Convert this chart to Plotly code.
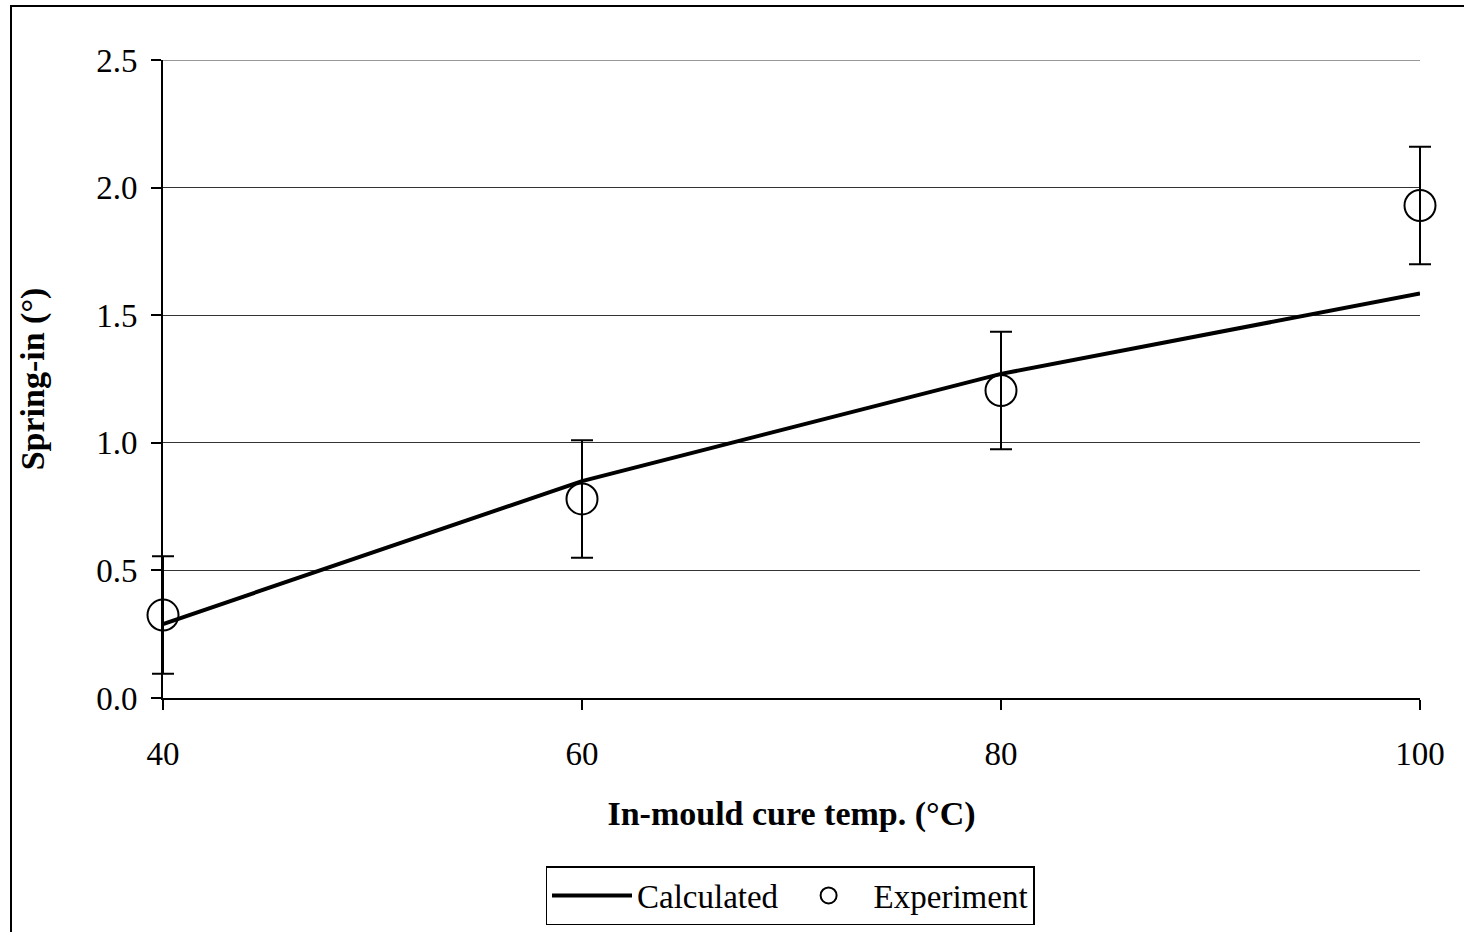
import plotly.graph_objects as go

temps = [40, 60, 80, 100]
calculated = [0.29, 0.85, 1.27, 1.585]
experiment = [0.325, 0.78, 1.205, 1.93]
exp_error = [0.23, 0.23, 0.23, 0.23]
y_ticks = [0.0, 0.5, 1.0, 1.5, 2.0, 2.5]
y_ticklabels = ["0.0", "0.5", "1.0", "1.5", "2.0", "2.5"]
x_ticks = [40, 60, 80, 100]
x_range = [40, 100]
y_range = [0, 2.5]

FONT = "Liberation Serif, Times New Roman, serif"

W, H = 1464, 932
PL, PR, PT, PB = 163, 1420, 60, 698   # visible plot area (px)
PAD = 24                              # extra unclipped room for error bars
L, R, T, B = PL - PAD, W - PR - PAD, PT, H - PB
pw_full = W - L - R
plot_w = PR - PL
ph = PB - PT
d = PAD / pw_full
xpad = PAD / plot_w * (x_range[1] - x_range[0])

fig = go.Figure()
fig.add_trace(go.Scatter(
    x=temps, y=calculated, mode="lines", name="Calculated",
    line=dict(color="black", width=4), cliponaxis=False,
))
fig.add_trace(go.Scatter(
    x=temps, y=experiment, mode="markers", name="Experiment", xaxis="x2", yaxis="y2",
    marker=dict(symbol="circle-open", size=31, color="black", line=dict(width=2, color="black")),
    error_y=dict(type="data", array=exp_error, visible=True, color="black", thickness=2, width=11),
    cliponaxis=False,
))

def px_x(p):
    return (p - L) / pw_full

def px_y(p):
    return (PB - p) / ph

fig.update_layout(
    width=W, height=H,
    margin=dict(l=L, r=R, t=T, b=B, autoexpand=False),
    paper_bgcolor="white", plot_bgcolor="rgba(0,0,0,0)",
    font=dict(family=FONT, size=33, color="black"),
    showlegend=True,
    legend=dict(
        orientation="h", x=px_x(790), xanchor="center", y=px_y(866), yanchor="top",
        bordercolor="black", borderwidth=1.5, bgcolor="white",
        font=dict(family=FONT, size=33, color="black"),
        itemwidth=80,
    ),
    xaxis=dict(
        domain=[d, 1 - d], automargin=False, anchor="y",
        range=x_range, tickvals=x_ticks, ticks="outside", ticklen=10, tickwidth=2,
        tickcolor="black", showline=True, linecolor="black", linewidth=2,
        showgrid=False, zeroline=False, ticklabelstandoff=15,
        title=dict(text="<b>In-mould cure temp. (°C)</b>", font=dict(family=FONT, size=34), standoff=31),
        tickfont=dict(family=FONT, size=33),
    ),
    xaxis2=dict(
        domain=[0, 1], anchor="y2", visible=False, automargin=False,
        range=[x_range[0] - xpad, x_range[1] + xpad], showgrid=False, zeroline=False,
    ),
    yaxis=dict(
        range=y_range, tickvals=y_ticks, ticktext=y_ticklabels, ticks="outside", ticklen=10,
        tickwidth=2, tickcolor="black", showline=True, linecolor="black", linewidth=2,
        showgrid=True, gridcolor="#333333", gridwidth=1, zeroline=False, anchor="x",
        ticklabelstandoff=7, automargin=False,
        title=dict(text="<b>Spring-in (°)</b>", font=dict(family=FONT, size=34), standoff=41),
        tickfont=dict(family=FONT, size=33),
    ),
    yaxis2=dict(
        domain=[0, 1], anchor="x2", visible=False, automargin=False,
        range=y_range, showgrid=False, zeroline=False,
    ),
)

# top gridline at the last tick (Plotly hides gridlines on the range edge)
fig.add_shape(type="line", xref="x", yref="y", x0=x_range[0], x1=x_range[1],
              y0=y_ticks[-1], y1=y_ticks[-1], line=dict(color="#333333", width=1), layer="below")

# outer frame (chart area border)
fig.add_shape(
    type="rect", xref="paper", yref="paper",
    x0=px_x(11), x1=px_x(W + 20), y0=px_y(H + 20), y1=px_y(6),
    line=dict(color="black", width=2), fillcolor="rgba(0,0,0,0)", layer="below",
)

fig.write_html("out.html")
